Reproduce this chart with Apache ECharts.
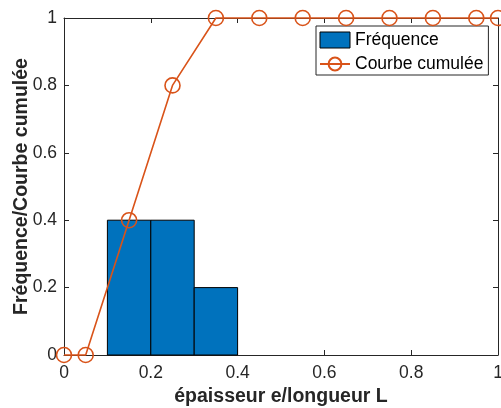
<!DOCTYPE html>
<html><head><meta charset="utf-8">
<script src="https://cdn.jsdelivr.net/npm/echarts@6/dist/echarts.min.js"></script>
<style>html,body{margin:0;padding:0;background:#fff}#c{width:501px;height:408px}</style>
</head><body><div id="c"></div>
<script>
const binEdges = [0.1, 0.2, 0.3, 0.4];
const freq = [0.4, 0.4, 0.2];
const cumX = [0, 0.05, 0.15, 0.25, 0.35, 0.45, 0.55, 0.65, 0.75, 0.85, 0.95, 1.0];
const cumY = [0, 0, 0.4, 0.8, 1, 1, 1, 1, 1, 1, 1, 1];
const xTicks = [0, 0.2, 0.4, 0.6, 0.8, 1];
const yTicks = [0, 0.2, 0.4, 0.6, 0.8, 1];

const font = '"Liberation Sans", Arial, Helvetica, sans-serif';
const axCol = '#262626';
const chart = echarts.init(document.getElementById('c'), null, {renderer:'canvas'});
const barData = freq.map((v,i)=>[binEdges[i], binEdges[i+1], v]);
const lineData = cumX.map((x,i)=>[x, cumY[i]]);
function axisCommon(showLabel, margin){
  return {
    type:'value', min:0, max:1, interval:0.2,
    axisLine:{show:true, onZero:false, lineStyle:{color:axCol, width:1}},
    axisTick:{show:true, inside:true, length:5, lineStyle:{color:axCol}},
    splitLine:{show:false},
    nameMoveOverlap:false,
    axisLabel:{show:showLabel, color:axCol, fontSize:17.5, fontFamily:font, margin:margin}
  };
}
const option = {
  animation:false,
  grid:{left:64, right:3, top:18, bottom:53, containLabel:false, outerBoundsMode:'none'},
  xAxis:[
    Object.assign(axisCommon(true, 9), {position:'bottom', name:'épaisseur e/longueur L', nameLocation:'middle', nameGap:32,
      nameTextStyle:{color:axCol, fontSize:19.5, fontWeight:'bold', fontFamily:font}}),
    Object.assign(axisCommon(false, 7), {position:'top'})
  ],
  yAxis:[
    Object.assign(axisCommon(true, 7), {position:'left', name:'Fréquence/Courbe cumulée', nameLocation:'middle', nameGap:32,
      nameTextStyle:{color:axCol, fontSize:19.5, fontWeight:'bold', fontFamily:font}}),
    Object.assign(axisCommon(false, 7), {position:'right'})
  ],
  legend:{
    orient:'vertical', left:316, top:26,
    backgroundColor:'#fff', borderColor:axCol, borderWidth:1, padding:[5,5,2,3],
    itemWidth:30, itemHeight:16, itemGap:6,
    textStyle:{color:'#000', fontSize:17.5, fontFamily:font},
    data:[
      {name:'Fréquence', icon:'rect', itemStyle:{color:'#0072BD', borderColor:'#000', borderWidth:1}},
      {name:'Courbe cumulée'}
    ]
  },
  series:[
    {
      name:'Fréquence', type:'custom', xAxisIndex:0, yAxisIndex:0,
      itemStyle:{color:'#0072BD'},
      data: barData,
      encode:{x:[0,1], y:2},
      renderItem:function(params, api){
        const p0 = api.coord([api.value(0), api.value(2)]);
        const p1 = api.coord([api.value(1), 0]);
        return {type:'rect', shape:{x:p0[0], y:p0[1], width:p1[0]-p0[0], height:p1[1]-p0[1]},
          style:{fill:'#0072BD', stroke:'#000', lineWidth:1}};
      },
      z:2
    },
    {
      name:'Courbe cumulée', type:'line', xAxisIndex:0, yAxisIndex:0,
      data: lineData, clip:false,
      symbol:'circle', symbolSize:15, showAllSymbol:true,
      lineStyle:{color:'#D95319', width:1.6},
      itemStyle:{color:'rgba(0,0,0,0)', borderColor:'#D95319', borderWidth:1.6},
      z:5
    }
  ]
};
chart.setOption(option);
</script></body></html>
